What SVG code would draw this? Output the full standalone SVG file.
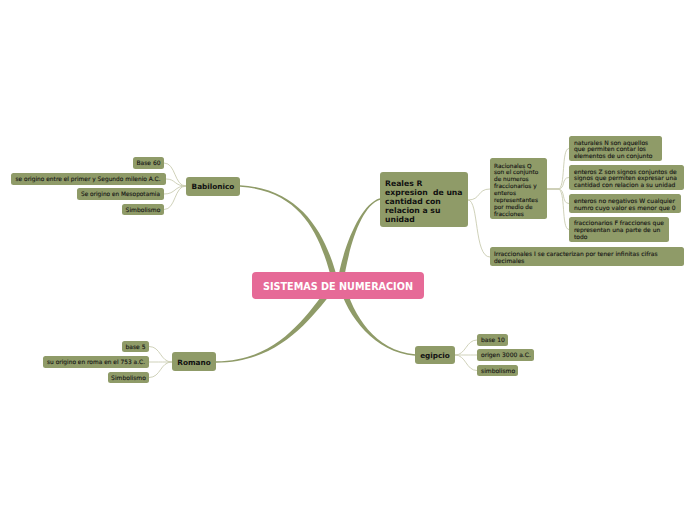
<svg xmlns="http://www.w3.org/2000/svg" width="696" height="520" viewBox="0 0 696 520">
<style>
.n{fill:#8f9b68}
.t{font-family:"DejaVu Sans",Verdana,sans-serif;font-size:6px;fill:#151515;stroke:#151515;stroke-width:0.12}
.s{font-size:5.8px}
.m{font-family:"DejaVu Sans",Verdana,sans-serif;font-size:7.3px;font-weight:bold;fill:#111}
.r{font-size:7.7px}
.b{fill:#8f9b68}
.c{fill:none;stroke:#c9ccb1;stroke-width:0.9}
</style>
<rect width="696" height="520" fill="#fff"/>
<g id="connectors">
<path class="b" d="M338.9,284.3 C327.9,239.3 305,189.2 240,185.2 L240,186.8 C305,190.8 322.1,240.7 333.1,285.7 Z"/>
<path class="b" d="M343,285.4 C348,250.4 360.2,205.8 380.2,199.8 L379.8,198.2 C359.8,204.2 342,249.6 337,284.6 Z"/>
<path class="b" d="M331.7,283.1 C307.7,313.1 280,361.2 216,361.2 L216,362.8 C280,362.8 312.3,316.9 336.3,286.9 Z"/>
<path class="b" d="M339.1,285.8 C347.1,315.8 374.9,352.8 414.9,355.8 L415.1,354.2 C375.1,351.2 352.9,314.2 344.9,284.2 Z"/>
<path class="c" d="M186,186 C174,186 176,163 164,163"/>
<path class="c" d="M186,186 C174,186 176,179 166,179"/>
<path class="c" d="M186,186 C174,186 176,194 164,194"/>
<path class="c" d="M186,186 C174,186 176,209.5 164,209.5"/>
<path class="c" d="M172,362 C160,362 161,346.5 149,346.5"/>
<path class="c" d="M172,362 C160,362 161,362 149,362"/>
<path class="c" d="M172,362 C160,362 161,377.5 149,377.5"/>
<path class="c" d="M455,355 C466,355 466,340 477,340"/>
<path class="c" d="M455,355 C466,355 466,355 477,355"/>
<path class="c" d="M455,355 C466,355 466,370.5 477,370.5"/>
<path class="c" d="M468,200 C481,200 477,189 490,189"/>
<path class="c" d="M468,200 C479,200 474,257 490,257"/>
<path class="c" d="M547,189 L558,189 C566,189 561,148.5 569,148.5"/>
<path class="c" d="M547,189 L558,189 C566,189 561,177.5 569,177.5"/>
<path class="c" d="M547,189 L558,189 C566,189 561,203.5 569,203.5"/>
<path class="c" d="M547,189 L558,189 C566,189 561,229.5 569,229.5"/>
</g>
<g id="center">
<rect x="252" y="272" width="172" height="27" rx="4" fill="#e66a97"/>
<text x="338" y="289.5" text-anchor="middle" font-family="DejaVu Sans,Verdana,sans-serif" font-size="9.6" font-weight="bold" fill="#fff" textLength="150" lengthAdjust="spacingAndGlyphs">SISTEMAS DE NUMERACION</text>
</g>
<g id="babilonico">
<rect class="n" x="186" y="177" width="54" height="19" rx="3"/>
<text class="m" x="213" y="188.8" text-anchor="middle">Babilonico</text>
</g>
<g id="b1"><rect class="n" x="133" y="157" width="31" height="12" rx="2.5"/><text class="t" x="148.5" y="165.2" text-anchor="middle">Base 60</text></g>
<g id="b2"><rect class="n" x="11" y="173" width="155" height="12" rx="2.5"/><text class="t" x="88" y="181.2" text-anchor="middle" textLength="145" lengthAdjust="spacingAndGlyphs">se origino entre el primer y Segundo milenio A.C.</text></g>
<g id="b3"><rect class="n" x="77" y="188" width="87" height="12" rx="2.5"/><text class="t" x="120.5" y="196.2" text-anchor="middle" textLength="79" lengthAdjust="spacingAndGlyphs">Se origino en Mesopotamia</text></g>
<g id="b4"><rect class="n" x="122" y="204" width="42" height="11" rx="2.5"/><text class="t" x="143" y="211.7" text-anchor="middle">Simbolismo</text></g>
<g id="reales">
<rect class="n" x="380" y="172" width="88" height="55" rx="3"/>
<text class="m r" x="385" y="185.5">Reales R</text>
<text class="m r" x="385" y="194.5" xml:space="preserve">expresion  de una</text>
<text class="m r" x="385" y="203.5">cantidad con</text>
<text class="m r" x="385" y="212.5">relacion a su</text>
<text class="m r" x="385" y="221.5">unidad</text>
</g>
<g id="racionales">
<rect class="n" x="490" y="158" width="57" height="61" rx="2.5"/>
<text class="t s" x="494" y="167.5">Racionales Q</text>
<text class="t s" x="494" y="174.4">son el conjunto</text>
<text class="t s" x="494" y="181.3">de numeros</text>
<text class="t s" x="494" y="188.2">fraccionarios y</text>
<text class="t s" x="494" y="195.1">enteros</text>
<text class="t s" x="494" y="202">representantes</text>
<text class="t s" x="494" y="208.9">por medio de</text>
<text class="t s" x="494" y="215.8">fracciones</text>
</g>
<g id="naturales">
<rect class="n" x="569" y="136" width="93" height="25" rx="2.5"/>
<text class="t" x="574" y="144.5">naturales N son aquellos</text>
<text class="t" x="574" y="151">que permiten contar los</text>
<text class="t" x="574" y="157.5">elementos de un conjunto</text>
</g>
<g id="enterosz">
<rect class="n" x="569" y="165" width="115" height="25" rx="2.5"/>
<text class="t" x="574" y="173.5">enteros Z son signos conjuntos de</text>
<text class="t" x="574" y="180">signos que permiten expresar una</text>
<text class="t" x="574" y="186.7">cantidad con relacion a su unidad</text>
</g>
<g id="enterosw">
<rect class="n" x="569" y="194" width="112" height="19" rx="2.5"/>
<text class="t" x="574" y="203">enteros no negativos W cualquier</text>
<text class="t" x="574" y="210">numro cuyo valor es menor que 0</text>
</g>
<g id="fraccionarios">
<rect class="n" x="569" y="217" width="100" height="25" rx="2.5"/>
<text class="t" x="574" y="224.5">fraccionarios F fracciones que</text>
<text class="t" x="574" y="231.5">representan una parte de un</text>
<text class="t" x="574" y="238.5">todo</text>
</g>
<g id="irraccionales">
<rect class="n" x="490" y="247" width="194" height="19" rx="2.5"/>
<text class="t" x="494" y="256">Irraccionales I se caracterizan por tener infinitas cifras</text>
<text class="t" x="494" y="263">decimales</text>
</g>
<g id="romano">
<rect class="n" x="172" y="352" width="44" height="19" rx="3"/>
<text class="m" x="194" y="364.5" text-anchor="middle">Romano</text>
</g>
<g id="r1"><rect class="n" x="122" y="341" width="27" height="11" rx="2.5"/><text class="t" x="135.5" y="348.7" text-anchor="middle">base 5</text></g>
<g id="r2"><rect class="n" x="43" y="356" width="106" height="12" rx="2.5"/><text class="t" x="96" y="364.2" text-anchor="middle" textLength="98" lengthAdjust="spacingAndGlyphs">su origino en roma en el 753 a.C.</text></g>
<g id="r3"><rect class="n" x="108" y="372" width="41" height="11" rx="2.5"/><text class="t" x="128.5" y="379.7" text-anchor="middle">Simbolismo</text></g>
<g id="egipcio">
<rect class="n" x="415" y="346" width="40" height="18" rx="3"/>
<text class="m" x="435" y="358" text-anchor="middle">egipcio</text>
</g>
<g id="e1"><rect class="n" x="477" y="334" width="31" height="12" rx="2.5"/><text class="t" x="481" y="342.2">base 10</text></g>
<g id="e2"><rect class="n" x="477" y="349" width="57" height="12" rx="2.5"/><text class="t" x="481" y="357.2">origen 3000 a.C.</text></g>
<g id="e3"><rect class="n" x="477" y="365" width="41" height="11" rx="2.5"/><text class="t" x="481" y="372.7">simbolismo</text></g>
</svg>
